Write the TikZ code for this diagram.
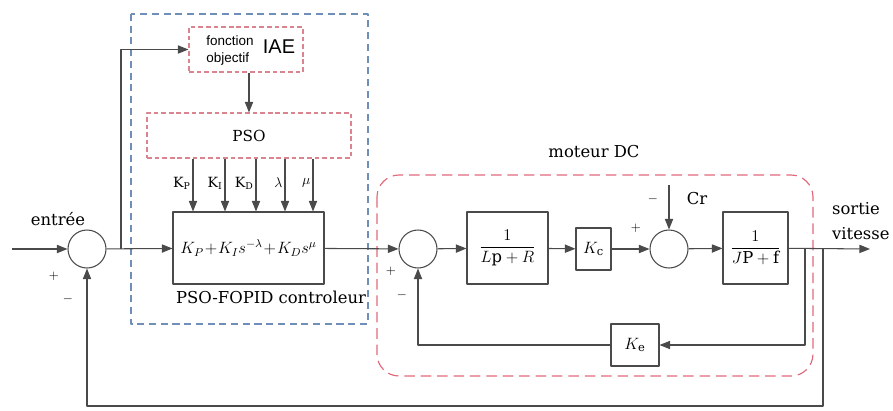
\RequirePackage{fix-cm}
\documentclass[tikz,border=0pt]{standalone}
\usepackage{amsmath}
\usepackage{fontspec}
\setmainfont{DejaVu Serif}
\newfontfamily\sansf{Liberation Sans}
\usetikzlibrary{arrows.meta,positioning}
\definecolor{linegray}{HTML}{4A4A4A}
\definecolor{psoblue}{HTML}{6F8FB8}
\definecolor{motred}{HTML}{E06A7C}
\definecolor{boxpink}{HTML}{D9848F}
\tikzset{
  sig/.style={draw=linegray, line width=0.9pt, ->},
  wire/.style={draw=linegray, line width=0.9pt},
  blk/.style={draw=linegray, line width=0.9pt, fill=white, inner sep=0pt},
  sumc/.style={circle, draw=linegray, line width=0.9pt, minimum size=1.14cm, inner sep=0pt},
  psobox/.style={draw=boxpink, line width=0.9pt, dash pattern=on 4pt off 2.5pt, minimum height=1.35cm, inner sep=0pt},
  sgn/.style={font=\fontsize{11}{13}\selectfont, inner sep=0pt},
}
\begin{document}
\begin{tikzpicture}[x=0.03cm, y=-0.03cm, font=\fontsize{14}{17}\selectfont, line join=round,
  >={Triangle[length=9pt,width=7pt]}]
\useasboundingbox (0,0) rectangle (893,410);
% zones
\draw[psoblue, line width=0.9pt, dash pattern=on 6pt off 4pt] (131,14) rectangle (368,324);
\draw[motred, line width=1pt, dash pattern=on 9pt off 5pt, rounded corners=0.66cm] (377,175) rectangle (813,376);
% blocks
\node[sumc] (s1) at (87,249) {};
\node[blk, minimum width=4.53cm, minimum height=2.16cm] (pid) at (248.5,248)
  {\fontsize{14}{16}\selectfont$K_P \!+\! K_I s^{-\lambda} \!+\! K_D s^{\mu}$};
\node[psobox, minimum width=3.42cm] (fobj) at (246,49.5) {};
\node[psobox, minimum width=6.12cm] (pso) at (249,135.5) {\fontsize{13}{15}\selectfont PSO};
\node[sumc] (s2) at (418,249) {};
\node[blk, minimum width=2.43cm, minimum height=2.16cm] (blkL) at (507.5,248) {$\dfrac{1}{L\mathrm{p}+R}$};
\node[blk, minimum width=1.05cm, minimum height=1.26cm] (kc) at (593.5,249) {$K_{\mathrm{c}}$};
\node[sumc] (s3) at (669,249) {};
\node[blk, minimum width=1.95cm, minimum height=2.16cm] (blkJ) at (755.5,248) {$\dfrac{1}{J\mathrm{P}+\mathrm{f}}$};
\node[blk, minimum width=1.44cm, minimum height=1.26cm] (ke) at (635,345) {$K_{\mathrm{e}}$};
% text
\node[font=\sansf\fontsize{11.5}{14.5}\selectfont, align=left] (fobjtxt) at (230,51) {fonction\\objectif};
\node[font=\sansf\fontsize{17}{19}\selectfont] (iae) at (279,47) {IAE};
\node (entree) at (58,219) {entrée};
\node (moteur) at (594,152) {moteur DC};
\node (cr) at (697,199) {Cr};
\node[align=left, anchor=west, font=\fontsize{14}{22}\selectfont] (sortie) at (828,221) {sortie\\vitesse};
\node (ctrl) at (271,297) {PSO-FOPID controleur};
\node[sgn] (p1) at (54,276) {$+$};
\node[sgn] (m1) at (68,299) {$-$};
\node[sgn] (p2) at (391,271) {$+$};
\node[sgn] (m2) at (402,295) {$-$};
\node[sgn] (p3) at (636,228) {$+$};
\node[sgn] (m3) at (653,199) {$-$};
% signals
\coordinate (in) at (12,249);
\coordinate (br) at (121,249);
\coordinate (crin) at (669,185);
\coordinate (out) at (870,249);
\coordinate (t1) at (805,249);
\coordinate (t2) at (823,249);
\coordinate (fb) at (87,406);
\draw[sig] (in) -- (s1);
\draw[sig] (s1) -- (pid);
\draw[sig] (br) |- (fobj.west);
\draw[sig] (fobj.south -| pso.north) -- (pso.north);
\foreach \x/\lab [count=\i] in {193/{K\textsubscript{P}}, 225/{K\textsubscript{I}}, 256/{K\textsubscript{D}}, 285/{$\lambda$}, 313/{$\mu$}}{
  \coordinate (k\i) at (\x,183);
  \draw[sig] (pso.south -| k\i) -- (pid.north -| k\i);
  \node[left=1pt, font=\fontsize{12}{14}\selectfont, inner sep=1pt] at (k\i) {\lab};
}
\draw[sig] (pid) -- (s2);
\draw[sig] (s2) -- (blkL);
\draw[sig] (blkL) -- (kc);
\draw[sig] (kc) -- (s3);
\draw[sig] (crin) -- (s3);
\draw[sig] (s3) -- (blkJ);
\draw[sig] (blkJ) -- (out);
\draw[sig] (t1) |- (ke.east);
\draw[sig] (ke.west) -| (s2.south);
\draw[sig] (t2) |- (fb) -- (s1.south);
\end{tikzpicture}
\end{document}
